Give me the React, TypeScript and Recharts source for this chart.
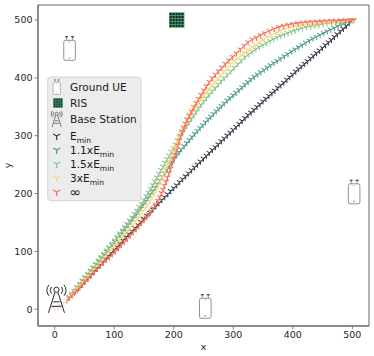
import { ScatterChart, Scatter, XAxis, YAxis, ReferenceArea } from "recharts";

const X_TICKS = [0, 100, 200, 300, 400, 500];
const Y_TICKS = [0, 100, 200, 300, 400, 500];

const UE_POINTS = [[25, 450], [503, 202], [253, 4]];
const RIS_POINTS = [[205, 500]];
const BS_POINTS = [[3, 18]];

const EMIN = [[0,0],[5,3],[10,6.5],[15,10.5],[20,15],[25,20.5],[30,26],[35,31.5],[40,37],[45,42.5],[50,48],[55,53.5],[60,59],[65,64.5],[70,70],[75,75.5],[80,81],[85,86.5],[90,92],[95,97.5],[100,103],[105,108],[110,113.5],[115,119],[120,124.5],[125,130],[130,135],[135,140.5],[140,146],[145,151],[150,156.5],[155,162],[160,167],[165,172.5],[170,178],[175,183.5],[180,189],[185,194],[190,199],[195,204.5],[200,209.5],[205,214.5],[210,220],[215,225],[220,230],[225,235],[230,240.5],[235,245.5],[240,250.5],[245,255.5],[250,260.5],[255,265.5],[260,270.5],[265,275.5],[270,280.5],[275,285.5],[280,290.5],[285,295.5],[290,300.5],[295,305.5],[300,310.5],[305,315.5],[310,320.5],[315,325.5],[320,330.5],[325,336],[330,340],[335,345],[340,350],[345,354.5],[350,359.5],[355,364],[360,369],[365,373.5],[370,378],[375,383],[380,387.5],[385,392],[390,397],[395,401.5],[400,406],[405,411],[410,415.5],[415,420],[420,424.5],[425,429],[430,434],[435,438.5],[440,443],[445,447.5],[450,452],[455,457],[460,461.5],[465,466],[470,471],[475,475.5],[480,480.5],[485,485],[490,490],[495,495],[500,500]];
const E11 = [[0,0],[5,3],[10,6.5],[15,10.5],[20,15],[24.5,20.7],[29,26.4],[33.5,32],[38,37.7],[42.5,43.4],[47,49],[51.5,54.7],[56,60.4],[60.5,66],[65,71.7],[69.5,77.5],[74,83],[78.5,88.7],[83,94.4],[87.5,100],[92,105.8],[96.5,111.5],[101,117.2],[105.5,123],[110,128.7],[114.5,134.5],[119,140.2],[123.5,146],[128,151.8],[132.5,157.6],[137,163.5],[141,169],[145,175],[149,180.7],[153,186.7],[157,192.5],[161,198.5],[165,204.5],[169,210.5],[173,216.5],[177,223],[181,229],[185,235.5],[189,242],[193,248.5],[197,255],[201,261.5],[205,266.5],[209,271.5],[213,276.5],[217.5,282],[222,287.5],[226.5,293],[231,298],[235.5,303.5],[240,308.5],[244.5,313.5],[249,318.5],[253.5,323.5],[258,328.5],[262.5,333],[267,338],[271.5,342.5],[276,347],[280.5,351.5],[285,356],[290,361],[295,365.5],[300,370],[305,374.5],[310,379.5],[315,384],[320,388.5],[325,393],[330,397.5],[335.5,402],[341,406],[346.5,410],[352,414],[357.5,418],[363,422],[368.5,426],[374,429.5],[380,433.5],[386,437.5],[392,441.5],[398,445.5],[404,449.5],[410,453],[416,457],[422,461],[428,464.5],[434,468],[440,471],[446,474.5],[452,477.5],[458,480.5],[464,483.5],[470,486.5],[476,489.5],[482,492.5],[488,495],[494,497.5],[500,500]];
const E15 = [[0,0],[5,3],[10,6.5],[15,10.5],[20,15],[24.5,20.8],[29,26.6],[33.5,32.4],[38,38.2],[42.5,44],[47,49.8],[51.5,55.6],[56,61.4],[60.5,67.2],[65,73],[69.5,78.8],[74,84.6],[78.5,90.4],[83,96.2],[87.5,102],[92,107.8],[96.5,113.6],[101,119.4],[105.5,125.4],[110,131.4],[114,137],[118,142.5],[122,148],[126,153.5],[130,159],[134,165],[138,171],[142,177],[146,183],[150,189.5],[154,196],[157.5,202],[161,208.5],[164.5,215],[168,221.5],[171.5,228],[175,234.5],[178.5,241],[182,247],[185.5,253.5],[189,260],[192.5,266],[196,272.5],[199.5,279],[203,285.5],[206.5,292],[210,298],[214,304.5],[218,311],[222,317.5],[226,323.5],[230,330],[234,336],[238,342],[242,348],[246,353.5],[250.5,359.5],[255,365.5],[260,371.5],[265,377.5],[270,383],[275,389],[280,394.5],[285,400],[290.5,406],[296,411.5],[302,418],[308,424],[314,430.5],[320,436],[326,441],[332,445.5],[338,449.5],[344,453.5],[350,457],[356,461],[362,464],[368,467],[374,470],[380,472.5],[386,475],[392,477.5],[398,480],[404,482],[410,484],[416,486],[423,487.5],[430,489],[437,490.5],[444,491.5],[451,493],[458,494],[465,495],[472,496],[479,497],[486,498],[493,499],[500,500]];
const E3 = [[0,0],[5,3],[10,6.5],[15,10.5],[20,15],[24.5,20.3],[29,25.6],[33.5,30.9],[38,36.2],[42.5,41.5],[47,46.8],[51.5,52.1],[56,57.4],[60.5,62.8],[65,68.2],[69.5,73.6],[74,79],[78.5,84.4],[83,89.8],[87.5,95.2],[92,100.6],[96.5,106],[101,111],[105.5,116.5],[110,122],[114.5,127],[119,132.5],[123.5,137.5],[128,143],[132,148],[136,153],[140,158.5],[144,164],[148,169.5],[152,175.5],[156,181.5],[160,187.5],[164,194],[167.5,200.5],[171,207.5],[174,214],[177,221],[180,228],[183,235],[186,242],[189,249],[192,256.5],[195,264],[198,271],[201,278.5],[204,286],[207,293],[210,300],[213,307],[216,313.5],[219.5,320.5],[223,327],[226.5,333.5],[230,340],[234,346],[238,352],[242,358],[246,364],[250,369.5],[254.5,375.5],[259,381],[264,387.5],[269,393.5],[274,399.5],[279,405],[284,410.5],[289.5,417],[295,423.5],[301,429],[307,434],[313,439],[319,444],[325,448.5],[331,453],[337.5,457.5],[344,462],[351,466.5],[358,470.5],[365,474.5],[372,478],[379,481],[386,484],[394,487],[402,489],[410,490],[418,491],[426,492],[434,493],[442,493.5],[450,494.5],[458,495],[466,496],[474,497],[482,498],[491,499],[500,500]];
const EINF = [[0,0],[5,3],[10,6.5],[15,10.5],[20,15],[24.5,19.5],[29,24],[33.5,28.5],[38,33],[42.5,37.5],[47,42.5],[52,48],[57,53.5],[62,59],[67,64.5],[72,70],[77,75.5],[82,81],[87,85.5],[92,90],[97,95],[102,100],[107,105.5],[112,111],[117,116.5],[122,122],[127,127.5],[132,133],[137,138.5],[141.5,143.5],[146,149],[150,154],[154,159],[158,164],[162,169.5],[166,175],[170,181],[173.5,188],[176.5,194],[179.5,201],[182,207],[184.5,214],[187,220.5],[189.5,228],[192,235.5],[194.5,243],[197,251],[199.5,259],[202,267.5],[204.5,275.5],[207,283.5],[209.5,292],[212,300],[214.5,307.5],[217,314.5],[220,321.5],[223,328.5],[226.5,335.5],[230,342.5],[234,350],[238,357],[242,364],[246,371],[250.5,378.5],[255,386],[260,393.5],[265,400],[270,406],[275.5,412],[281,418],[287,424.5],[293,430.5],[299,436.5],[305.5,443],[312,449.5],[318.5,456],[325,462],[332,466.5],[339,470],[346,474],[353,477.5],[361,481.5],[369,485],[377,488],[385,490],[393,492],[401,493.5],[409,494.5],[417,495.5],[425,496.5],[433,497],[441,497.5],[449,498],[457,498.5],[465,499],[473,499],[481,499.5],[489,500],[497,500],[503,500]];

const BLACK = "#3c404f";
const TEAL = "#4f9f90";
const GREEN = "#8cc591";
const YELLOW = "#f6da85";
const RED = "#f8705a";

const toPoints = (rows: number[][]) => rows.map(([x, y]) => ({ x, y }));

const SERIES = [
  { name: "Emin", rows: EMIN, color: BLACK },
  { name: "1.1xEmin", rows: E11, color: TEAL },
  { name: "1.5xEmin", rows: E15, color: GREEN },
  { name: "3xEmin", rows: E3, color: YELLOW },
  { name: "inf", rows: EINF, color: RED },
];

function Tri({ cx, cy, color, r = 3.3, w = 1.05 }: any) {
  return (
    <path
      d={`M${cx} ${cy}L${cx} ${cy + r}M${cx} ${cy}L${cx - r * 0.87} ${cy - r * 0.5}M${cx} ${cy}L${cx + r * 0.87} ${cy - r * 0.5}`}
      stroke={color}
      strokeWidth={w}
      fill="none"
    />
  );
}

function PhoneIcon({ cx, cy, s = 1 }: any) {
  return (
    <g transform={`translate(${cx} ${cy}) scale(${s})`} fill="none">
      <rect x={-5.8} y={-8.6} width={11.6} height={20} rx={1.8} stroke="#777" strokeWidth={0.8} fill="#fff" />
      <path d="M-3 -12L-3 -9.2M3 -12L3 -9.2" stroke="#666" strokeWidth={0.8} />
      <path d="M-4.5 -12.2L-1.5 -12.2M1.5 -12.2L4.5 -12.2" stroke="#222" strokeWidth={1.1} />
      <path d="M-1.5 -6.8L1.5 -6.8" stroke="#aaa" strokeWidth={0.6} />
      <circle cx={0} cy={9} r={0.8} fill="#888" />
    </g>
  );
}

function RisIcon({ cx, cy, s = 1 }: any) {
  const cells = [0, 1, 2, 3, 4];
  return (
    <g transform={`translate(${cx} ${cy}) scale(${s})`}>
      <rect x={-7.7} y={-7.7} width={15.4} height={15.4} fill="#4f9a72" />
      {cells.map((i) =>
        cells.map((j) => (
          <rect key={`${i}-${j}`} x={-7 + i * 2.95} y={-7 + j * 2.95} width={2} height={2} fill="#10261e" />
        )),
      )}
    </g>
  );
}

function TowerIcon({ cx, cy, s = 1, backed = false }: any) {
  return (
    <g transform={`translate(${cx} ${cy}) scale(${s})`} fill="none" stroke="#2a2a2a" strokeWidth={1}>
      {backed && <rect x={-10} y={-15} width={20} height={30} fill="#fff" fillOpacity={0.82} stroke="none" />}
      <circle cx={0} cy={-9} r={2.6} />
      <path d="M-1.5 -6.5L-8 14M1.5 -6.5L8 14M-3.2 3L3.2 3M-5 7.5L5 7.5" />
      <path d="M-5 -12A6 6 0 0 0 -5 -5M5 -12A6 6 0 0 1 5 -5" />
      <path d="M-7.5 -14A9 9 0 0 0 -7.5 -3M7.5 -14A9 9 0 0 1 7.5 -3" />
    </g>
  );
}

const LEGEND_TEXT = { fontFamily: "DejaVu Sans", fontSize: 10.6, fill: "#1a1a1a" };

function Sub({ pre }: { pre: string }) {
  return (
    <>
      {pre}E
      <tspan dy={2.5} fontSize={7.6}>min</tspan>
    </>
  );
}

function LegendBox() {
  return (
    <svg width={374} height={356} style={{ position: "absolute", left: 0, top: 0, pointerEvents: "none" }}>
      <rect x={47.7} y={77} width={93.3} height={123.7} rx={3} fill="#ececec" stroke="#d0d0d0" strokeWidth={0.9} />
      <PhoneIcon cx={56.7} cy={87.5} s={0.62} />
      <RisIcon cx={58} cy={103} s={0.62} />
      <TowerIcon cx={56.7} cy={119} s={0.58} />
      <text x={70} y={91} {...LEGEND_TEXT}>Ground UE</text>
      <text x={70} y={107} {...LEGEND_TEXT}>RIS</text>
      <text x={70} y={123} {...LEGEND_TEXT}>Base Station</text>
      <Tri cx={56.7} cy={136} color={BLACK} r={4} w={1.3} />
      <Tri cx={56.7} cy={150} color={TEAL} r={4} w={1.3} />
      <Tri cx={56.7} cy={164} color={GREEN} r={4} w={1.3} />
      <Tri cx={56.7} cy={178} color={YELLOW} r={4} w={1.3} />
      <Tri cx={56.7} cy={192} color={RED} r={4} w={1.3} />
      <text x={70} y={140} {...LEGEND_TEXT}><Sub pre="" /></text>
      <text x={70} y={154} {...LEGEND_TEXT}><Sub pre="1.1x" /></text>
      <text x={70} y={168} {...LEGEND_TEXT}><Sub pre="1.5x" /></text>
      <text x={70} y={182} {...LEGEND_TEXT}><Sub pre="3x" /></text>
      <text x={69.5} y={197} {...LEGEND_TEXT} fontSize={14}>∞</text>
    </svg>
  );
}

const tickStyle = { fontFamily: "DejaVu Sans", fontSize: 9.5, fill: "#262626" };
const axisLine = { stroke: "#666", strokeWidth: 1 };
const tickLine = { stroke: "#666", strokeWidth: 0.8 };

export default function App() {
  return (
    <div style={{ position: "absolute", left: 0, top: 0, width: 374, height: 356 }}>
      <ScatterChart width={374} height={356} margin={{ top: 5, right: 5, bottom: 0, left: 0 }}>
        <XAxis
          type="number"
          dataKey="x"
          domain={[-28, 528]}
          ticks={X_TICKS}
          height={30}
          tick={tickStyle}
          tickSize={3.5}
          tickMargin={2}
          axisLine={axisLine}
          tickLine={tickLine}
          label={{ value: "x", position: "insideBottom", offset: 6, style: { ...tickStyle, textAnchor: "middle" } }}
        />
        <YAxis
          type="number"
          dataKey="y"
          domain={[-29, 526]}
          ticks={Y_TICKS}
          width={38}
          tick={tickStyle}
          tickSize={3.5}
          tickMargin={2}
          axisLine={axisLine}
          tickLine={tickLine}
          label={{ value: "y", angle: -90, position: "insideLeft", offset: 8, style: { ...tickStyle, textAnchor: "middle" } }}
        />
        <ReferenceArea x1={-28} x2={528} y1={-29} y2={526} fill="none" stroke="#666" strokeWidth={1} />
        {SERIES.map((s) => (
          <Scatter
            key={s.name}
            name={s.name}
            data={toPoints(s.rows)}
            isAnimationActive={false}
            line={{ stroke: s.color, strokeWidth: 1 }}
            shape={(p: any) => <Tri cx={p.cx} cy={p.cy} color={s.color} />}
          />
        ))}
        <Scatter data={toPoints(UE_POINTS)} isAnimationActive={false} shape={(p: any) => <PhoneIcon cx={p.cx} cy={p.cy} />} />
        <Scatter data={toPoints(RIS_POINTS)} isAnimationActive={false} shape={(p: any) => <RisIcon cx={p.cx} cy={p.cy} />} />
        <Scatter data={toPoints(BS_POINTS)} isAnimationActive={false} shape={(p: any) => <TowerIcon cx={p.cx} cy={p.cy} backed />} />
      </ScatterChart>
      <LegendBox />
    </div>
  );
}
